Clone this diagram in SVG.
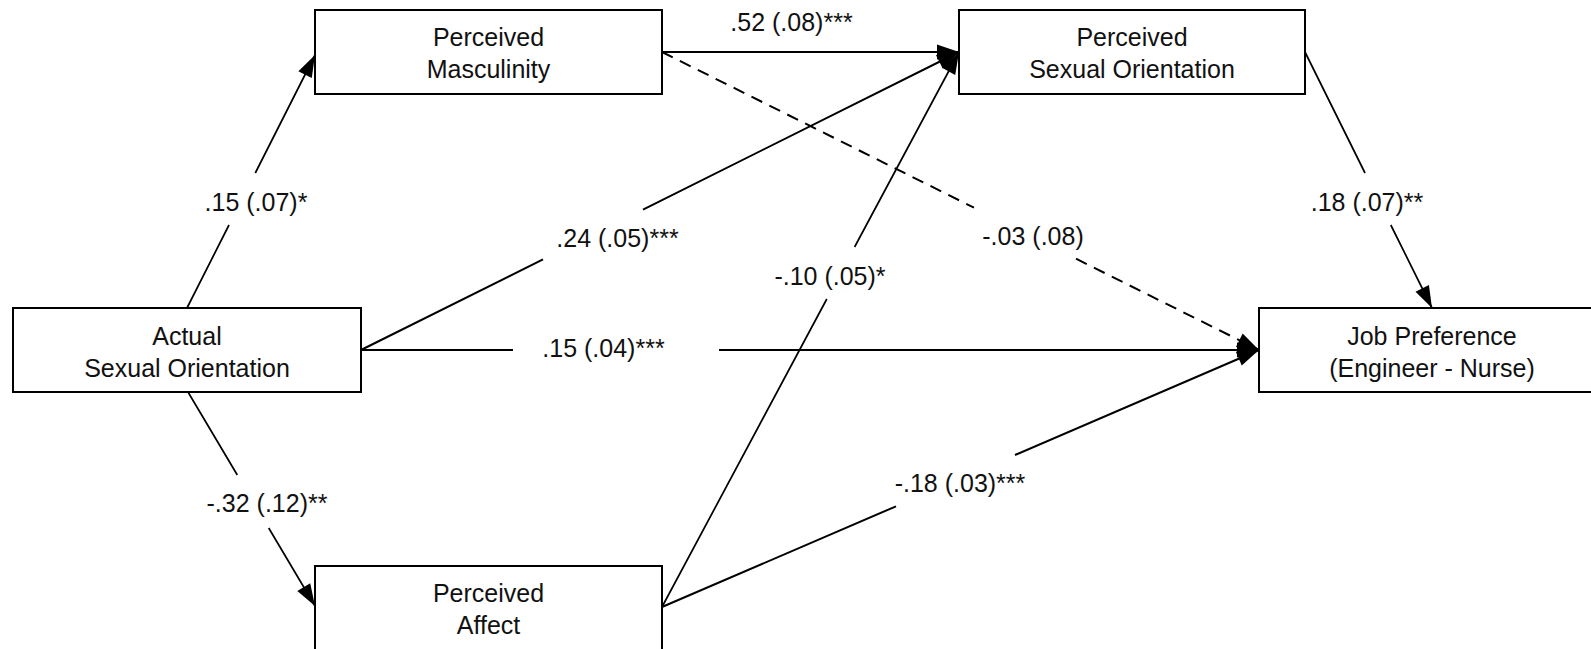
<svg xmlns="http://www.w3.org/2000/svg" width="1591" height="649" viewBox="0 0 1591 649">
<style>
.box{fill:#fff;stroke:#000;stroke-width:2}
.nt{font-family:"Liberation Sans",Arial,sans-serif;font-size:25px;fill:#111;text-anchor:middle}
.lb{font-family:"Liberation Sans",Arial,sans-serif;font-size:25px;fill:#111;text-anchor:middle}
.c{fill:none;stroke:#000;stroke-width:2}
.thin{stroke-width:1.7}
.dash{stroke-dasharray:12 8}
</style>
<defs>
<marker id="ah" markerUnits="userSpaceOnUse" markerWidth="23" markerHeight="16" refX="22" refY="7.5" orient="auto" overflow="visible">
<path d="M0,0 L22,7.5 L0,15 z" fill="#000"/>
</marker>
</defs>
<rect width="1591" height="649" fill="#fff"/>
<g id="connectors">
<path class="c thin" d="M187,308 L229,225 M255.3,173 L315,55" marker-end="url(#ah)"/>
<path class="c" d="M662,52 L959,52" marker-end="url(#ah)"/>
<path class="c" d="M361,350 L543,259.4 M643,209.6 L959,52" marker-end="url(#ah)"/>
<path class="c thin" d="M662,607 L826.8,299 M854.6,247 L959,52" marker-end="url(#ah)"/>
<path class="c" d="M361,350 L513,350 M719,350 L1259,350" marker-end="url(#ah)"/>
<path class="c dash" d="M662,52 L974,207.7 M1076,258.7 L1259,350" marker-end="url(#ah)"/>
<path class="c thin" d="M1305,52 L1365,173 M1390.8,225 L1432,308" marker-end="url(#ah)"/>
<path class="c thin" d="M188,392 L237.3,475 M268.7,528 L315,606" marker-end="url(#ah)"/>
<path class="c" d="M662,607 L896,506.3 M1015,455 L1259,350" marker-end="url(#ah)"/>
</g>
<g id="labels">
<text class="lb" x="791.5" y="30.5">.52 (.08)***</text>
<text class="lb" x="256" y="211">.15 (.07)*</text>
<text class="lb" x="617.5" y="247">.24 (.05)***</text>
<text class="lb" x="603.5" y="357">.15 (.04)***</text>
<text class="lb" x="830" y="285">-.10 (.05)*</text>
<text class="lb" x="1033" y="245">-.03 (.08)</text>
<text class="lb" x="1367" y="211">.18 (.07)**</text>
<text class="lb" x="267" y="512">-.32 (.12)**</text>
<text class="lb" x="960" y="492">-.18 (.03)***</text>
</g>
<g id="node-masculinity">
<rect class="box" x="315" y="10" width="347" height="84"/>
<text class="nt" x="488.5" y="46">Perceived</text>
<text class="nt" x="488.5" y="78">Masculinity</text>
</g>
<g id="node-perceived-orientation">
<rect class="box" x="959" y="10" width="346" height="84"/>
<text class="nt" x="1132" y="46">Perceived</text>
<text class="nt" x="1132" y="78">Sexual Orientation</text>
</g>
<g id="node-actual">
<rect class="box" x="13" y="308" width="348" height="84"/>
<text class="nt" x="187" y="345">Actual</text>
<text class="nt" x="187" y="377">Sexual Orientation</text>
</g>
<g id="node-job">
<rect class="box" x="1259" y="308" width="346" height="84"/>
<text class="nt" x="1432" y="345">Job Preference</text>
<text class="nt" x="1432" y="377">(Engineer - Nurse)</text>
</g>
<g id="node-affect">
<rect class="box" x="315" y="566" width="347" height="100"/>
<text class="nt" x="488.5" y="602">Perceived</text>
<text class="nt" x="488.5" y="634">Affect</text>
</g>
</svg>
